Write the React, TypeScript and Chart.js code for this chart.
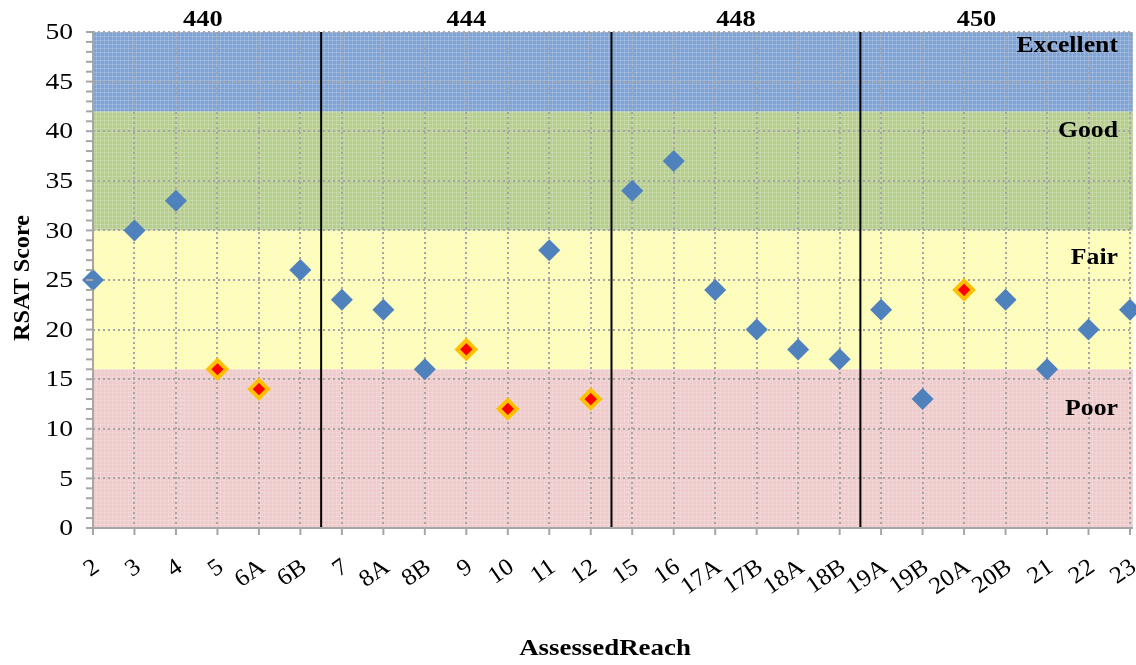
import React, { useEffect, useRef } from "react";
import { Chart, registerables } from "chart.js";

Chart.register(...registerables);

const reaches = ["2","3","4","5","6A","6B","7","8A","8B","9","10","11","12","15","16","17A","17B","18A","18B","19A","19B","20A","20B","21","22","23"];
const scores = [25,30,33,16,14,26,23,22,16,18,12,28,13,34,37,24,20,18,17,22,13,24,23,16,20,22];
const flaggedReaches = ["5","6A","9","10","12","20A"];
const yTicks = [0,5,10,15,20,25,30,35,40,45,50];

const bandNames = ["Poor","Fair","Good","Excellent"];
const bandMin = [0,16,30,42];
const bandMax = [16,30,42,50];
const bandColors = ["#f0cbcb","#fdfdb4","#b7cf8e","#7fa3d5"];
const bandLabelY = [12,27.2,40,48.6];

const groupNames = ["440","444","448","450"];
const groupLabelPos = [2.65,9,15.5,21.3];
const separatorPos = [5.5,12.5,18.5];

const FONT = "'Liberation Serif', 'Times New Roman', serif";

function makePattern(ctx: CanvasRenderingContext2D, base: string) {
  const c = document.createElement("canvas");
  c.width = 4; c.height = 4;
  const g = c.getContext("2d")!;
  g.fillStyle = base;
  g.fillRect(0,0,4,4);
  g.fillStyle = "rgba(255,255,255,0.18)";
  g.fillRect(0,0,4,1);
  g.fillRect(0,0,1,4);
  return ctx.createPattern(c, "repeat") || base;
}

function drawText(ctx: CanvasRenderingContext2D, text: string, x: number, y: number, align: CanvasTextAlign, baseline: CanvasTextBaseline, font: string, sx: number, rot = 0) {
  ctx.save();
  ctx.translate(x, y);
  if (rot) ctx.rotate(rot);
  ctx.scale(sx, 1);
  ctx.font = font;
  ctx.textAlign = align;
  ctx.textBaseline = baseline;
  ctx.fillStyle = "#000";
  ctx.fillText(text, 0, 0);
  ctx.restore();
}

const decorPlugin = {
  id: "decor",
  beforeDraw(chart: any) {
    const { ctx, chartArea, scales } = chart;
    const y = scales.y;
    ctx.save();
    bandNames.forEach((_, i) => {
      const top = y.getPixelForValue(bandMax[i]);
      const bot = y.getPixelForValue(bandMin[i]);
      ctx.fillStyle = makePattern(ctx, bandColors[i]);
      ctx.fillRect(chartArea.left, top, chartArea.right - chartArea.left + 3, bot - top);
    });
    ctx.restore();
  },
  beforeDatasetsDraw(chart: any) {
    const { ctx, chartArea, scales } = chart;
    const x = scales.x;
    const x0 = x.getPixelForValue(0);
    const step = x.getPixelForValue(1) - x0;
    ctx.save();
    ctx.strokeStyle = "#000";
    ctx.lineWidth = 2;
    separatorPos.forEach((p) => {
      const px = x0 + step * p;
      ctx.beginPath();
      ctx.moveTo(px, chartArea.top);
      ctx.lineTo(px, chartArea.bottom);
      ctx.stroke();
    });
    ctx.strokeStyle = "#a6a6a6";
    ctx.beginPath();
    ctx.moveTo(chartArea.left, chartArea.top);
    ctx.lineTo(chartArea.left, chartArea.bottom);
    ctx.lineTo(chartArea.right + 3, chartArea.bottom);
    ctx.stroke();
    ctx.restore();
  },
  afterDraw(chart: any) {
    const { ctx, chartArea, scales } = chart;
    const x = scales.x;
    const y = scales.y;
    const x0 = x.getPixelForValue(0);
    const step = x.getPixelForValue(1) - x0;
    ctx.save();
    ctx.strokeStyle = "#a6a6a6";
    ctx.lineWidth = 2;
    for (let v = 0; v <= 50; v++) {
      const py = y.getPixelForValue(v);
      ctx.beginPath();
      ctx.moveTo(chartArea.left - 7, py);
      ctx.lineTo(chartArea.left, py);
      ctx.stroke();
    }
    reaches.forEach((_, i) => {
      const px = x0 + step * i;
      ctx.beginPath();
      ctx.moveTo(px, chartArea.bottom);
      ctx.lineTo(px, chartArea.bottom + 7);
      ctx.stroke();
    });
    ctx.restore();

    const tickFont = `24px ${FONT}`;
    yTicks.forEach((v) => {
      drawText(ctx, String(v), chartArea.left - 20, y.getPixelForValue(v) + 1, "right", "middle", tickFont, 1.15);
    });
    reaches.forEach((r, i) => {
      drawText(ctx, r, x0 + step * i - 3, chartArea.bottom + 27, "right", "top", tickFont, 1.05, -35 * Math.PI / 180);
    });
    const boldFont = `bold 23px ${FONT}`;
    bandNames.forEach((n, i) => {
      drawText(ctx, n, chartArea.right - 12, y.getPixelForValue(bandLabelY[i]), "right", "middle", boldFont, 1.12);
    });
    groupNames.forEach((n, i) => {
      drawText(ctx, n, x0 + step * groupLabelPos[i], chartArea.top - 12, "center", "middle", `bold 24px ${FONT}`, 1.1);
    });
    drawText(ctx, "AssessedReach", 605, 649, "center", "middle", `bold 24px ${FONT}`, 1.12);
    drawText(ctx, "RSAT Score", 23, (chartArea.top + chartArea.bottom) / 2 - 2, "center", "middle", `bold 23px ${FONT}`, 1.05, -Math.PI / 2);
  },
};

export default function App() {
  const ref = useRef<HTMLCanvasElement>(null);
  useEffect(() => {
    document.body.style.margin = "0";
    const blue = scores.map((s, i) => (flaggedReaches.includes(reaches[i]) ? null : s));
    const red = scores.map((s, i) => (flaggedReaches.includes(reaches[i]) ? s : null));
    const chart = new Chart(ref.current!, {
      type: "line",
      data: {
        labels: reaches,
        datasets: [
          {
            data: blue,
            showLine: false,
            pointStyle: "rectRot",
            pointRadius: 11,
            pointBackgroundColor: "#4f81bd",
            pointBorderColor: "#4f81bd",
            pointBorderWidth: 0,
            clip: false as any,
          },
          {
            data: red,
            showLine: false,
            pointStyle: "rectRot",
            pointRadius: 9,
            pointBackgroundColor: "#ff0000",
            pointBorderColor: "#ffc000",
            pointBorderWidth: 4,
            clip: false as any,
          },
        ],
      },
      options: {
        animation: false,
        responsive: false,
        events: [],
        layout: { autoPadding: false, padding: { top: 32, right: 6, left: 0, bottom: 0 } },
        plugins: { legend: { display: false }, tooltip: { enabled: false } },
        scales: {
          x: {
            type: "category",
            offset: false,
            grid: { color: "#a6a6a6", lineWidth: 2, drawTicks: false },
            border: { display: false, dash: [2, 3] },
            ticks: { display: false, autoSkip: false },
            afterFit(scale: any) { scale.height = 137; scale.paddingLeft = 0; scale.paddingRight = 0; },
          },
          y: {
            min: 0,
            max: 50,
            ticks: { display: false, stepSize: 5 },
            grid: { color: "#a6a6a6", lineWidth: 2, drawTicks: false },
            border: { display: false, dash: [2, 3] },
            afterFit(scale: any) { scale.width = 93; scale.paddingTop = 0; scale.paddingBottom = 0; },
          },
        },
      },
      plugins: [decorPlugin],
    });
    return () => chart.destroy();
  }, []);
  return (
    <div style={{ width: 1136, height: 665 }}>
      <canvas ref={ref} width={1136} height={665} style={{ display: "block" }} />
    </div>
  );
}
